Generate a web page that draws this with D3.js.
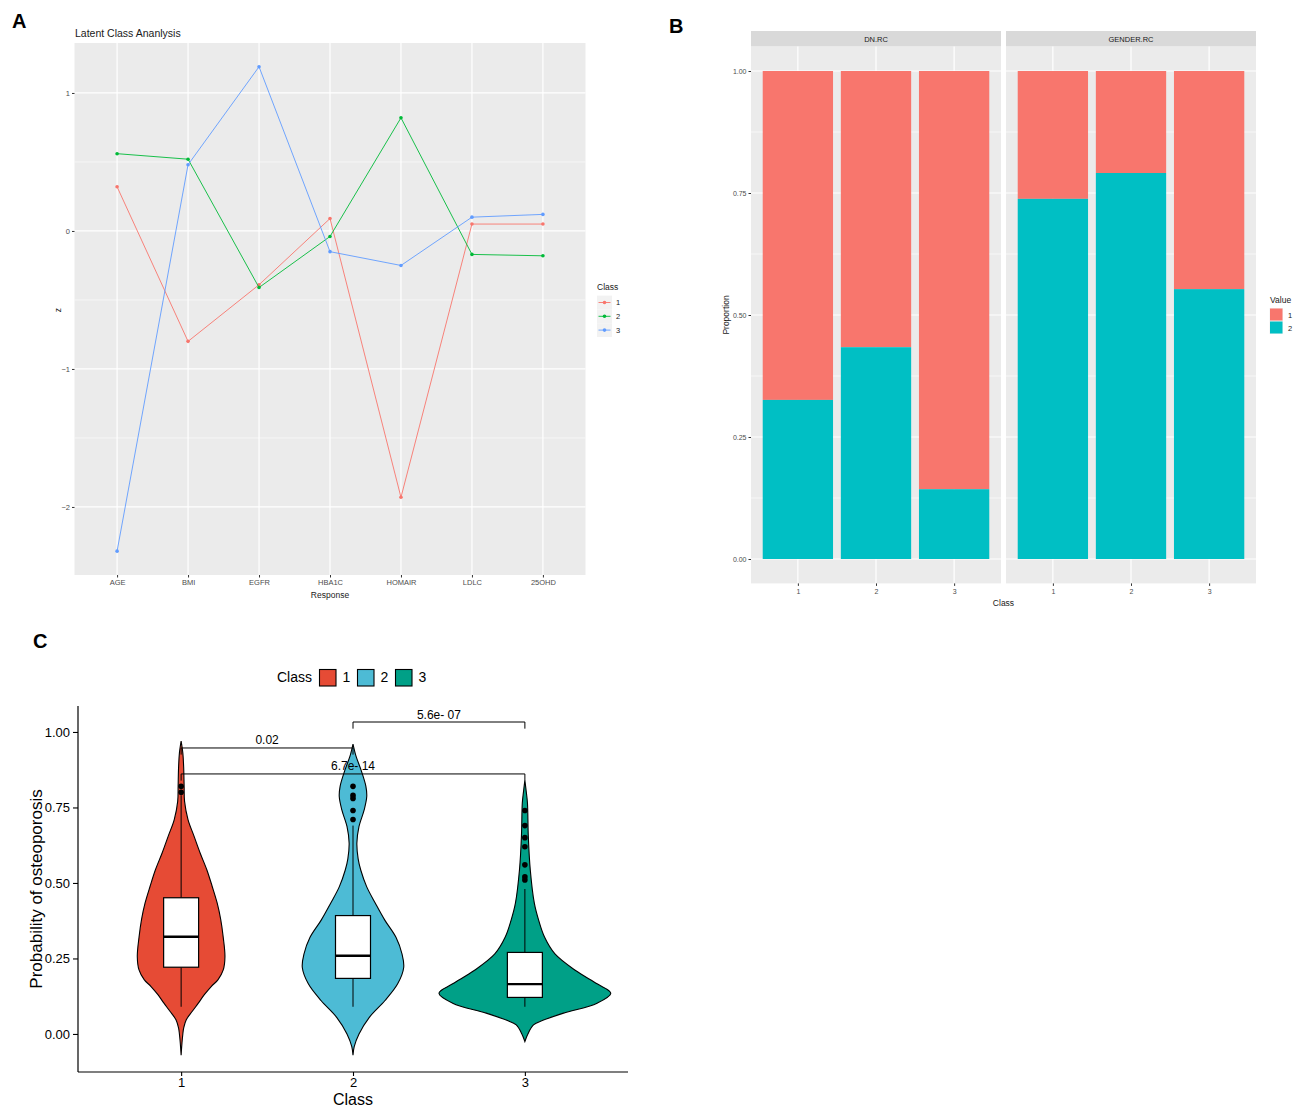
<!DOCTYPE html>
<html>
<head>
<meta charset="utf-8">
<script src="https://cdn.jsdelivr.net/npm/d3@7"></script>
<style>
  html, body { margin: 0; padding: 0; background: #fff; }
  svg { display: block; font-family: "Liberation Sans", Arial, sans-serif; }
</style>
</head>
<body>
<svg id="fig" width="1303" height="1106"></svg>
<script>
// ---------- Panel A: latent class profiles ----------
const responses = ["AGE", "BMI", "EGFR", "HBA1C", "HOMAIR", "LDLC", "25OHD"];
const lcaClasses = ["1", "2", "3"];
const class1Z = [0.32, -0.80, -0.39, 0.09, -1.93, 0.05, 0.05];
const class2Z = [0.56, 0.52, -0.41, -0.04, 0.82, -0.17, -0.18];
const class3Z = [-2.32, 0.48, 1.19, -0.15, -0.25, 0.10, 0.12];
const zTicks = [-2, -1, 0, 1];
const zMinor = [-1.5, -0.5, 0.5];

// ---------- Panel B: proportions by class ----------
const facetNames = ["DN.RC", "GENDER.RC"];
const valueLevels = ["1", "2"];
const dnValue2 = [0.326, 0.434, 0.143];
const genderValue2 = [0.738, 0.791, 0.553];
const propTicks = [0, 0.25, 0.5, 0.75, 1];
const propMinor = [0.125, 0.375, 0.625, 0.875];

// ---------- Panel C: probability of osteoporosis ----------
const probTicks = [0, 0.25, 0.5, 0.75, 1];
const boxQ1 = [0.221, 0.184, 0.121];
const boxMedian = [0.322, 0.259, 0.165];
const boxQ3 = [0.451, 0.392, 0.270];
const whiskerLow = [0.09, 0.09, 0.09];
const whiskerHigh = [0.79, 0.69, 0.48];
const outliers1 = [0.80, 0.82];
const outliers2 = [0.71, 0.74, 0.78, 0.79, 0.82];
const outliers3 = [0.51, 0.52, 0.56, 0.62, 0.65, 0.69, 0.74];
// density profiles: [probability, relative density]
const density1 = [[0.97,0],[0.93,0.02],[0.88,0.03],[0.82,0.035],[0.77,0.04],[0.71,0.08],[0.655,0.15],[0.60,0.22],[0.543,0.30],[0.49,0.36],[0.433,0.42],[0.38,0.46],[0.32,0.49],[0.256,0.51],[0.212,0.49],[0.18,0.43],[0.157,0.35],[0.13,0.27],[0.102,0.20],[0.075,0.13],[0.047,0.06],[0.02,0.03],[0.0,0.02],[-0.03,0.01],[-0.07,0]];
const density2 = [[0.96,0],[0.92,0.035],[0.877,0.09],[0.82,0.15],[0.786,0.16],[0.742,0.13],[0.687,0.07],[0.632,0.045],[0.58,0.06],[0.543,0.09],[0.487,0.16],[0.433,0.26],[0.377,0.37],[0.32,0.50],[0.265,0.57],[0.22,0.59],[0.166,0.52],[0.11,0.37],[0.055,0.19],[0.0,0.07],[-0.042,0.014],[-0.07,0]];
const density3 = [[0.84,0],[0.80,0.017],[0.765,0.03],[0.655,0.04],[0.543,0.063],[0.433,0.11],[0.377,0.16],[0.32,0.23],[0.265,0.35],[0.21,0.59],[0.166,0.84],[0.135,1.0],[0.102,0.84],[0.069,0.45],[0.045,0.21],[0.03,0.10],[0.0,0.035],[-0.025,0]];
const comparisons = [
  { from: "1", to: "2", y: 0.947, label: "0.02" },
  { from: "2", to: "3", y: 1.033, label: "5.6e- 07" },
  { from: "1", to: "3", y: 0.861, label: "6.7e- 14" }
];

const svg = d3.select("#fig");
const hue = ["#F8766D", "#00BA38", "#619CFF"];
const gray = "#EBEBEB";

// ================= Panel A =================
(function () {
  const L = 74.5, R = 585.5, T = 43, B = 575;
  const x = d3.scalePoint().domain(responses).range([L, R]).padding(0.6);
  const y = d3.scaleLinear().domain([-2.493, 1.362]).range([B, T]);
  const g = svg.append("g");

  g.append("text").attr("x", 12).attr("y", 28).attr("font-size", 20).attr("font-weight", "bold").text("A");
  g.append("text").attr("x", 75).attr("y", 37).attr("font-size", 10.5).attr("fill", "#1a1a1a").text("Latent Class Ananlysis");

  g.append("rect").attr("x", L).attr("y", T).attr("width", R - L).attr("height", B - T).attr("fill", gray);
  g.selectAll(".minor").data(zMinor).join("line")
    .attr("x1", L).attr("x2", R).attr("y1", d => y(d)).attr("y2", d => y(d))
    .attr("stroke", "#fff").attr("stroke-width", 0.6);
  g.selectAll(".major").data(zTicks).join("line")
    .attr("x1", L).attr("x2", R).attr("y1", d => y(d)).attr("y2", d => y(d))
    .attr("stroke", "#fff").attr("stroke-width", 1.2);
  g.selectAll(".vgrid").data(responses).join("line")
    .attr("x1", d => x(d)).attr("x2", d => x(d)).attr("y1", T).attr("y2", B)
    .attr("stroke", "#fff").attr("stroke-width", 1.2);

  const yAxis = g.append("g").attr("transform", `translate(${L},0)`)
    .call(d3.axisLeft(y).tickValues(zTicks).tickSize(2.5).tickPadding(2).tickFormat(d3.format("d")));
  const xAxis = g.append("g").attr("transform", `translate(0,${B})`)
    .call(d3.axisBottom(x).tickSize(2.5).tickPadding(2));
  [yAxis, xAxis].forEach(a => {
    a.select(".domain").remove();
    a.selectAll("line").attr("stroke", "#333");
    a.selectAll("text").attr("font-size", 7.5).attr("fill", "#4d4d4d").attr("font-family", "Liberation Sans, Arial, sans-serif");
  });

  g.append("text").attr("x", (L + R) / 2).attr("y", 598).attr("text-anchor", "middle").attr("font-size", 8.5).attr("fill", "#1a1a1a").text("Response");
  g.append("text").attr("transform", "translate(61,310) rotate(-90)").attr("text-anchor", "middle").attr("font-size", 8.5).attr("fill", "#1a1a1a").text("z");

  const series = [class1Z, class2Z, class3Z];
  const line = d3.line().x((d, i) => x(responses[i])).y(d => y(d));
  series.forEach((s, k) => {
    g.append("path").attr("d", line(s)).attr("fill", "none").attr("stroke", hue[k]).attr("stroke-width", 0.9);
    g.selectAll(null).data(s).join("circle")
      .attr("cx", (d, i) => x(responses[i])).attr("cy", d => y(d)).attr("r", 1.8).attr("fill", hue[k]);
  });

  // legend
  const lg = g.append("g");
  lg.append("text").attr("x", 597).attr("y", 290).attr("font-size", 8.5).attr("fill", "#1a1a1a").text("Class");
  lcaClasses.forEach((c, k) => {
    const cy = 302.5 + k * 13.8;
    lg.append("rect").attr("x", 597).attr("y", cy - 6.9).attr("width", 15).attr("height", 13.8).attr("fill", "#F2F2F2");
    lg.append("line").attr("x1", 598.5).attr("x2", 610.5).attr("y1", cy).attr("y2", cy).attr("stroke", hue[k]).attr("stroke-width", 0.9);
    lg.append("circle").attr("cx", 604.5).attr("cy", cy).attr("r", 1.8).attr("fill", hue[k]);
    lg.append("text").attr("x", 616).attr("y", cy + 2.8).attr("font-size", 7.5).attr("fill", "#1a1a1a").text(c);
  });
})();

// ================= Panel B =================
(function () {
  const T = 46.6, B = 583.4;
  const facetX = [[751, 1001], [1006, 1256]];
  const y = d3.scaleLinear().domain([-0.05, 1.05]).range([B, T]);
  const fills = { "1": "#F8766D", "2": "#00BFC4" };
  const g = svg.append("g");
  g.append("text").attr("x", 669).attr("y", 33).attr("font-size", 20).attr("font-weight", "bold").text("B");

  const facetData = [dnValue2, genderValue2];
  facetNames.forEach((name, f) => {
    const [L, R] = facetX[f];
    const x = d3.scalePoint().domain(lcaClasses).range([L, R]).padding(0.6);
    const bw = x.step() * 0.9;
    // strip
    g.append("rect").attr("x", L).attr("y", 31).attr("width", R - L).attr("height", T - 31).attr("fill", "#D9D9D9");
    g.append("text").attr("x", (L + R) / 2).attr("y", 41.5).attr("text-anchor", "middle").attr("font-size", 7.5).attr("fill", "#1a1a1a").text(name);
    // panel
    g.append("rect").attr("x", L).attr("y", T).attr("width", R - L).attr("height", B - T).attr("fill", gray);
    g.selectAll(null).data(propMinor).join("line")
      .attr("x1", L).attr("x2", R).attr("y1", d => y(d)).attr("y2", d => y(d)).attr("stroke", "#fff").attr("stroke-width", 0.6);
    g.selectAll(null).data(propTicks).join("line")
      .attr("x1", L).attr("x2", R).attr("y1", d => y(d)).attr("y2", d => y(d)).attr("stroke", "#fff").attr("stroke-width", 1.2);
    g.selectAll(null).data(lcaClasses).join("line")
      .attr("x1", d => x(d)).attr("x2", d => x(d)).attr("y1", T).attr("y2", B).attr("stroke", "#fff").attr("stroke-width", 1.2);

    const stacked = facetData[f].map((v2, i) => ({ cls: lcaClasses[i], v2 }));
    // value 1 stacked on top of value 2
    g.selectAll(null).data(stacked).join("rect")
      .attr("x", d => x(d.cls) - bw / 2).attr("width", bw)
      .attr("y", y(1)).attr("height", d => y(d.v2) - y(1)).attr("fill", fills[valueLevels[0]]);
    g.selectAll(null).data(stacked).join("rect")
      .attr("x", d => x(d.cls) - bw / 2).attr("width", bw)
      .attr("y", d => y(d.v2)).attr("height", d => y(0) - y(d.v2)).attr("fill", fills[valueLevels[1]]);

    const xa = g.append("g").attr("transform", `translate(0,${B})`).call(d3.axisBottom(x).tickSize(2.5).tickPadding(3));
    xa.select(".domain").remove();
    xa.selectAll("line").attr("stroke", "#333");
    xa.selectAll("text").attr("font-size", 7).attr("fill", "#4d4d4d").attr("font-family", "Liberation Sans, Arial, sans-serif");
  });
  const ya = g.append("g").attr("transform", "translate(751,0)")
    .call(d3.axisLeft(y).tickValues(propTicks).tickSize(2.5).tickPadding(2).tickFormat(d3.format(".2f")));
  ya.select(".domain").remove();
  ya.selectAll("line").attr("stroke", "#333");
  ya.selectAll("text").attr("font-size", 7).attr("fill", "#4d4d4d").attr("font-family", "Liberation Sans, Arial, sans-serif");

  g.append("text").attr("transform", "translate(729,315) rotate(-90)").attr("text-anchor", "middle").attr("font-size", 8.5).attr("fill", "#1a1a1a").text("Proportion");
  g.append("text").attr("x", 1003.5).attr("y", 606).attr("text-anchor", "middle").attr("font-size", 8.5).attr("fill", "#1a1a1a").text("Class");

  // legend
  g.append("text").attr("x", 1270).attr("y", 303).attr("font-size", 8.5).attr("fill", "#1a1a1a").text("Value");
  valueLevels.forEach((v, k) => {
    const ty = 308 + k * 13;
    g.append("rect").attr("x", 1269.5).attr("y", ty).attr("width", 13.5).attr("height", 13).attr("fill", "#F2F2F2");
    g.append("rect").attr("x", 1270).attr("y", ty + 0.5).attr("width", 12.5).attr("height", 12).attr("fill", fills[v]);
    g.append("text").attr("x", 1288).attr("y", ty + 9.5).attr("font-size", 7.5).attr("fill", "#1a1a1a").text(v);
  });
})();

// ================= Panel C =================
(function () {
  const L = 78, R = 628, T = 706, B = 1072;
  const npg = ["#E64B35", "#4DBBD5", "#00A087"];
  const x = d3.scalePoint().domain(lcaClasses).range([L, R]).padding(0.6);
  const y = d3.scaleLinear().domain([-0.126, 1.086]).range([B, T]);
  const w = d3.scaleLinear().domain([0, 1]).range([0, x.step() / 2]);
  const g = svg.append("g");

  g.append("text").attr("x", 33).attr("y", 648).attr("font-size", 20).attr("font-weight", "bold").text("C");

  // legend
  g.append("text").attr("x", 312).attr("y", 682).attr("text-anchor", "end").attr("font-size", 14).text("Class");
  lcaClasses.forEach((c, k) => {
    const bx = 319.5 + k * 38;
    g.append("rect").attr("x", bx).attr("y", 669.5).attr("width", 16.5).attr("height", 16.5)
      .attr("fill", npg[k]).attr("stroke", "#000").attr("stroke-width", 1.1);
    g.append("text").attr("x", bx + 23).attr("y", 682).attr("font-size", 14).text(c);
  });

  const densities = [density1, density2, density3];
  const boxW = 35;
  densities.forEach((dens, k) => {
    const cx = x(lcaClasses[k]);
    const area = d3.area().curve(d3.curveCatmullRom)
      .y(d => y(d[0])).x0(d => cx - w(d[1])).x1(d => cx + w(d[1]));
    g.append("path").attr("d", area(dens)).attr("fill", npg[k]).attr("stroke", "#000").attr("stroke-width", 1.1);
    // whiskers
    g.append("line").attr("x1", cx).attr("x2", cx).attr("y1", y(whiskerLow[k])).attr("y2", y(boxQ1[k])).attr("stroke", "#000").attr("stroke-width", 1);
    g.append("line").attr("x1", cx).attr("x2", cx).attr("y1", y(boxQ3[k])).attr("y2", y(whiskerHigh[k])).attr("stroke", "#000").attr("stroke-width", 1);
    g.append("rect").attr("x", cx - boxW / 2).attr("width", boxW)
      .attr("y", y(boxQ3[k])).attr("height", y(boxQ1[k]) - y(boxQ3[k]))
      .attr("fill", "#fff").attr("stroke", "#000").attr("stroke-width", 1.2);
    g.append("line").attr("x1", cx - boxW / 2).attr("x2", cx + boxW / 2)
      .attr("y1", y(boxMedian[k])).attr("y2", y(boxMedian[k])).attr("stroke", "#000").attr("stroke-width", 2.4);
  });
  [outliers1, outliers2, outliers3].forEach((pts, k) => {
    g.selectAll(null).data(pts).join("circle")
      .attr("cx", x(lcaClasses[k])).attr("cy", d => y(d)).attr("r", 2.8).attr("fill", "#000");
  });

  // significance brackets
  const tick = 0.022;
  comparisons.forEach(c => {
    const x1 = x(c.from), x2 = x(c.to), yy = y(c.y), yt = y(c.y - tick);
    g.append("path").attr("d", `M${x1},${yt}V${yy}H${x2}V${yt}`).attr("fill", "none").attr("stroke", "#000").attr("stroke-width", 1);
    g.append("text").attr("x", (x1 + x2) / 2).attr("y", yy - 3.5).attr("text-anchor", "middle").attr("font-size", 12).text(c.label);
  });

  // axes
  const ya = g.append("g").attr("transform", `translate(${L},0)`)
    .call(d3.axisLeft(y).tickValues(probTicks).tickSize(5).tickPadding(3).tickFormat(d3.format(".2f")));
  const xa = g.append("g").attr("transform", `translate(0,${B})`)
    .call(d3.axisBottom(x).tickSize(4).tickPadding(1.5));
  [ya, xa].forEach(a => {
    a.select(".domain").attr("stroke", "#000").attr("stroke-width", 1.2);
    a.selectAll("line").attr("stroke", "#000").attr("stroke-width", 1.1);
    a.selectAll("text").attr("font-size", 13).attr("fill", "#000").attr("font-family", "Liberation Sans, Arial, sans-serif");
  });
  // keep axes from extending beyond the panel
  ya.select(".domain").attr("d", `M0,${T}V${B}`);
  xa.select(".domain").attr("d", `M${L},0H${R}`);

  g.append("text").attr("transform", "translate(42,889) rotate(-90)").attr("text-anchor", "middle").attr("font-size", 17).text("Probability of osteoporosis");
  g.append("text").attr("x", (L + R) / 2).attr("y", 1104.5).attr("text-anchor", "middle").attr("font-size", 16).text("Class");
})();
</script>
</body>
</html>
